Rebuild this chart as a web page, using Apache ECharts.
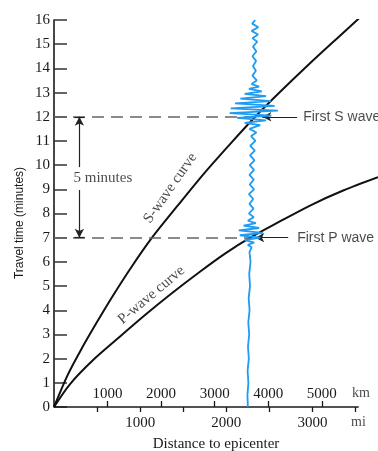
<!DOCTYPE html>
<html><head><meta charset="utf-8">
<script src="https://cdn.jsdelivr.net/npm/echarts@6/dist/echarts.min.js"></script>
<style>html,body{margin:0;padding:0;background:#fff}#c{width:378px;height:451px}</style>
</head><body><div id="c"></div>
<script>
// ---- data ----
const kmTickValues = [1000, 2000, 3000, 4000, 5000];
const miTickValues = [500, 1000, 1500, 2000, 2500, 3000, 3500];
const miLabelValues = [1000, 2000, 3000];
const KM_PER_MI = 1.609344;

const sCurveKm  = [0, 250, 500, 800, 1100, 1450, 1830, 2300, 2800, 3300, 3757, 4224, 4800, 5300, 5760];
const sCurveMin = [0, 1.3, 2.35, 3.5, 4.6, 5.8, 7.0, 8.3, 9.65, 10.9, 12.0, 13.03, 14.25, 15.27, 16.2];

const pCurveKm  = [0, 300, 735, 1200, 1700, 2200, 2731, 3200, 3664, 4200, 4800, 5400, 6050];
const pCurveMin = [0, 0.95, 1.95, 2.85, 3.8, 4.7, 5.6, 6.35, 7.0, 7.65, 8.35, 8.95, 9.5];

const seisMin = [16.0,15.85,15.7,15.55,15.4,15.25,15.1,14.9,14.7,14.5,14.3,14.1,13.9,13.7,13.5,13.35,
  13.25,13.15,13.05,12.95,12.85,12.75,12.65,12.55,12.45,12.35,12.25,12.15,12.05,11.95,11.85,11.75,11.65,
  11.5,11.35,11.2,11.0,10.8,10.6,10.4,10.2,10.0,9.8,9.6,9.4,9.2,9.0,8.8,8.6,8.4,8.2,8.0,7.85,
  7.7,7.6,7.5,7.4,7.3,7.2,7.1,7.0,6.9,6.8,6.7,6.6,
  6.4,6.0,5.5,5.0,4.5,4.0,3.5,3.0,2.5,2.0,1.5,1.0,0.5,0.0];
const seisKm = [3757,3700,3815,3690,3810,3705,3795,3715,3780,3705,3775,3715,3770,3705,3785,3690,
  3830,3640,3880,3560,3960,3480,4050,3380,4120,3300,4180,3280,4060,3420,3960,3560,3850,
  3650,3780,3680,3760,3665,3750,3660,3745,3655,3735,3650,3730,3655,3735,3640,3720,3650,3725,3640,3730,
  3620,3770,3540,3830,3450,3900,3470,3850,3560,3740,3620,3690,
  3650,3670,3645,3660,3635,3652,3628,3645,3622,3638,3615,3630,3612,3620];

const sArrivalMin = 12, pArrivalMin = 7;
const sArrivalKm = 3757, pArrivalKm = 3664;
const axisEndKm = 5690;

// ---- chart ----
const chart = echarts.init(document.getElementById('c'), null, {renderer: 'canvas'});
const serif = 'Liberation Serif';
const sans = 'Liberation Sans';
const ink = '#1a1a1a';

const zip = (xs, ys) => xs.map((x, i) => [x, ys[i]]);
const plain = v => String(v);

const option = {
  animation: false,
  backgroundColor: '#fff',
  grid: {left: 54, right: 0, top: 20, bottom: 44, containLabel: false, outerBoundsMode: 'none'},
  xAxis: [
    {
      type: 'value', min: 0, max: 6050, position: 'bottom',
      axisLine: {show: false}, splitLine: {show: false},
      axisTick: {show: true, inside: true, length: 6, customValues: kmTickValues, lineStyle: {color: ink, width: 1.3}},
      axisLabel: {inside: true, margin: 5, customValues: kmTickValues, formatter: plain, fontFamily: serif, fontSize: 15, color: ink}
    },
    {
      type: 'value', min: 0, max: 6050 / KM_PER_MI, position: 'bottom',
      axisLine: {show: false}, splitLine: {show: false},
      axisTick: {show: true, inside: false, length: 5, customValues: miTickValues, lineStyle: {color: ink, width: 1.3}},
      axisLabel: {margin: 9, customValues: miLabelValues, formatter: plain, fontFamily: serif, fontSize: 15, color: ink},
      name: 'Distance to epicenter', nameLocation: 'middle', nameGap: 30,
      nameTextStyle: {fontFamily: serif, fontSize: 15, color: ink}
    }
  ],
  yAxis: {
    type: 'value', min: 0, max: 16, interval: 1,
    axisLine: {show: true, lineStyle: {color: ink, width: 1.6}},
    axisTick: {show: true, inside: true, length: 13, lineStyle: {color: '#333', width: 1.5}},
    axisLabel: {margin: 4, formatter: plain, fontFamily: serif, fontSize: 15, color: ink},
    splitLine: {show: false}
  },
  graphic: [{
    type: 'text', x: 20, y: 223, rotation: Math.PI / 2,
    style: {text: 'Travel time (minutes)', font: '12px "Liberation Sans"', fill: ink, align: 'center', verticalAlign: 'middle'}
  }],
  series: [
    {
      name: 'x axis line', type: 'line', xAxisIndex: 0, clip: false, symbol: 'none',
      data: [[0, 0], [axisEndKm, 0]], lineStyle: {color: ink, width: 1.5}, z: 3
    },
    {
      name: 'S-wave', type: 'line', xAxisIndex: 0, smooth: 0.3, symbol: 'none',
      data: zip(sCurveKm, sCurveMin), lineStyle: {color: '#111', width: 2}, z: 4,
      markLine: {
        silent: true, symbol: 'none', label: {show: false},
        lineStyle: {color: '#666', width: 1.5, type: [12, 7]},
        data: [
          [{coord: [0, sArrivalMin]}, {coord: [sArrivalKm, sArrivalMin]}],
          [{coord: [0, pArrivalMin]}, {coord: [pArrivalKm, pArrivalMin]}]
        ]
      }
    },
    {
      name: 'P-wave', type: 'line', xAxisIndex: 0, smooth: 0.3, symbol: 'none',
      data: zip(pCurveKm, pCurveMin), lineStyle: {color: '#111', width: 2}, z: 4,
      markLine: {
        silent: true, label: {show: false}, symbolSize: [7, 9],
        lineStyle: {color: '#222', width: 1.2, type: 'solid'},
        data: [
          [{coord: [3890, sArrivalMin], symbol: 'arrow'}, {coord: [4540, sArrivalMin], symbol: 'none'}],
          [{coord: [3757, pArrivalMin], symbol: 'arrow'}, {coord: [4373, pArrivalMin], symbol: 'none'}],
          [{coord: [474, 9.92], symbol: 'none'}, {coord: [474, sArrivalMin], symbol: 'arrow'}],
          [{coord: [474, 8.97], symbol: 'none'}, {coord: [474, pArrivalMin], symbol: 'arrow'}],
          [{coord: [380, sArrivalMin], symbol: 'none'}, {coord: [570, sArrivalMin], symbol: 'none'}],
          [{coord: [380, pArrivalMin], symbol: 'none'}, {coord: [570, pArrivalMin], symbol: 'none'}]
        ]
      }
    },
    {
      name: 'seismogram', type: 'line', xAxisIndex: 0, symbol: 'none', clip: false,
      data: zip(seisKm, seisMin), lineStyle: {color: '#1f9bf2', width: 1.8}, z: 5
    },
    {
      name: 'labels', type: 'scatter', xAxisIndex: 0, symbolSize: 0, clip: false, silent: true, z: 6,
      data: [
        {value: [4653, sArrivalMin], label: {show: true, formatter: 'First S wave', position: 'right', distance: 0, fontFamily: sans, fontSize: 14, color: ink}},
        {value: [4540, pArrivalMin], label: {show: true, formatter: 'First P wave', position: 'right', distance: 0, fontFamily: sans, fontSize: 14, color: ink}},
        {value: [364, 9.47], label: {show: true, formatter: '5 minutes', position: 'right', distance: 0, fontFamily: serif, fontSize: 15, color: ink}},
        {value: [2172, 9.05], label: {show: true, formatter: 'S-wave curve', position: 'inside', rotate: 55, fontFamily: serif, fontSize: 15, color: ink}},
        {value: [1819, 4.63], label: {show: true, formatter: 'P-wave curve', position: 'inside', rotate: 40, fontFamily: serif, fontSize: 15, color: ink}},
        {value: [5733, 0.58], label: {show: true, formatter: 'km', position: 'inside', fontFamily: serif, fontSize: 14, color: ink}},
        {value: [5686, -0.62], label: {show: true, formatter: 'mi', position: 'inside', fontFamily: serif, fontSize: 14, color: ink}}
      ]
    }
  ]
};
chart.setOption(option);
</script>
</body></html>
